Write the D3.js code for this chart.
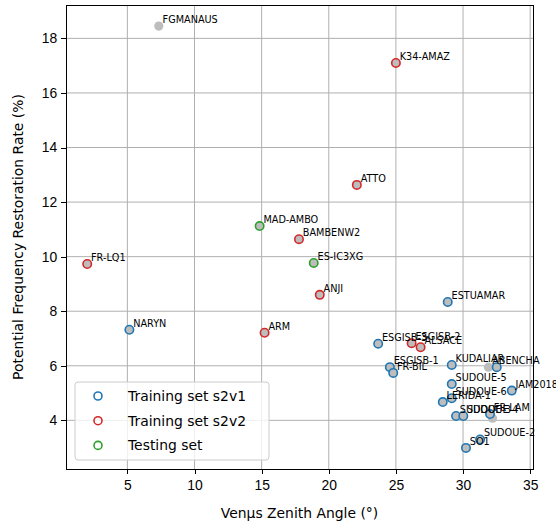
<!DOCTYPE html>
<meta charset="utf-8">
<head>
    <title>Restoration rate vs zenith angle</title>
    <script src="https://d3js.org/d3.v7.min.js"></script>
</head>
<style>
    body { margin: 0; background: #fff; }
    svg { font-family: "DejaVu Sans", sans-serif; }
    .axis path, .axis line { stroke: #000; stroke-width: 1px; shape-rendering: crispEdges; }
    .axis text { font-size: 13.9px; fill: #000; }
    .grid line { stroke: #b0b0b0; stroke-width: 1px; }
    .lbl { font-size: 9.7px; fill: #000; }
</style>
<body>
<svg width="556" height="525"></svg>
<script>
// point labels (empty = no label), angle, restoration rate, group
var labels = ["FGMANAUS", "ABENCHA", "",
    "NARYN", "ESTUAMAR", "ESGISB-3", "ESGISB-1", "FR-BIL", "KUDALIAR", "", "SUDOUE-5", "JAM2018",
    "SUDOUE-6", "LERIDA-1", "SUDOUE-3", "SUDOUE-4", "FR-LAM", "SUDOUE-2", "SO1",
    "K34-AMAZ", "ATTO", "BAMBENW2", "FR-LQ1", "ANJI", "ARM", "ESGISB-2", "ALSACE",
    "MAD-AMBO", "ES-IC3XG"];
var zenith = [7.34, 31.89, 32.19,
    5.15, 28.86, 23.68, 24.55, 24.80, 29.16, 32.51, 29.16, 33.63,
    29.16, 28.49, 29.48, 30.02, 32.01, 31.27, 30.22,
    25.0, 22.09, 17.78, 2.01, 19.33, 15.22, 26.17, 26.84,
    14.85, 18.88];
var rate = [18.45, 5.95, 4.08,
    7.32, 8.34, 6.81, 5.95, 5.74, 6.03, 5.95, 5.33, 5.09,
    4.81, 4.67, 4.16, 4.16, 4.23, 3.30, 2.99,
    17.1, 12.63, 10.64, 9.73, 8.6, 7.21, 6.83, 6.68,
    11.12, 9.77];
var group = ["none", "none", "none",
    "s2v1", "s2v1", "s2v1", "s2v1", "s2v1", "s2v1", "s2v1", "s2v1", "s2v1",
    "s2v1", "s2v1", "s2v1", "s2v1", "s2v1", "s2v1", "s2v1",
    "s2v2", "s2v2", "s2v2", "s2v2", "s2v2", "s2v2", "s2v2", "s2v2",
    "test", "test"];

var legendNames = ["Training set s2v1", "Training set s2v2", "Testing set"];
var legendKeys = ["s2v1", "s2v2", "test"];
var xTicks = [5, 10, 15, 20, 25, 30, 35];
var yTicks = [4, 6, 8, 10, 12, 14, 16, 18];

var colors = {s2v1: "#1f77b4", s2v2: "#d62728", test: "#2ca02c"};

var data = labels.map(function(s, i) {
    return {name: s, x: zenith[i], y: rate[i], g: group[i]};
});

var svg = d3.select("svg"),
    margin = {top: 5, right: 23, bottom: 56, left: 66},
    width = +svg.attr("width") - margin.left - margin.right,
    height = +svg.attr("height") - margin.top - margin.bottom;

// matplotlib style 5% margins round the data
function padded(vals) {
    var e = d3.extent(vals), p = (e[1] - e[0]) * 0.05;
    return [e[0] - p, e[1] + p];
}

var x = d3.scaleLinear().domain(padded(zenith)).range([0, width]);
var y = d3.scaleLinear().domain(padded(rate)).range([height, 0]);

var g = svg.append("g")
    .attr("transform", "translate(" + margin.left + "," + margin.top + ")");

// grid
g.append("g").attr("class", "grid")
    .selectAll("line.v").data(xTicks).enter().append("line")
    .attr("x1", x).attr("x2", x).attr("y1", 0).attr("y2", height);
g.append("g").attr("class", "grid")
    .selectAll("line.h").data(yTicks).enter().append("line")
    .attr("y1", y).attr("y2", y).attr("x1", 0).attr("x2", width);

// points
g.selectAll(".dot")
    .data(data)
    .enter().append("circle")
    .attr("class", "dot")
    .attr("cx", function(d) { return x(d.x); })
    .attr("cy", function(d) { return y(d.y); })
    .attr("r", function(d) { return d.g === "none" ? 4.6 : 4.2; })
    .attr("fill", "#bdbdbd")
    .attr("stroke", function(d) { return d.g === "none" ? "none" : colors[d.g]; })
    .attr("stroke-width", 1.6);

// labels
g.selectAll(".lbl")
    .data(data.filter(function(d) { return d.name; }))
    .enter().append("text")
    .attr("class", "lbl")
    .attr("x", function(d) { return x(d.x) + 3.8; })
    .attr("y", function(d) { return y(d.y) - 3; })
    .text(function(d) { return d.name; });

// axes
g.append("g")
    .attr("class", "x axis")
    .attr("transform", "translate(0," + height + ")")
    .call(d3.axisBottom(x).tickValues(xTicks).tickSize(4.9).tickPadding(6.5).tickSizeOuter(0));

g.append("g")
    .attr("class", "y axis")
    .call(d3.axisLeft(y).tickValues(yTicks).tickSize(4.9).tickPadding(4).tickSizeOuter(0));

g.append("rect")
    .attr("width", width).attr("height", height)
    .attr("fill", "none").attr("stroke", "#000").attr("stroke-width", 1)
    .attr("shape-rendering", "crispEdges");

svg.append("text")
    .attr("x", margin.left + width / 2)
    .attr("y", 518)
    .attr("text-anchor", "middle")
    .style("font-size", "13.9px")
    .text("Venμs Zenith Angle (°)");

svg.append("text")
    .attr("transform", "translate(23," + (margin.top + height / 2) + ") rotate(-90)")
    .attr("text-anchor", "middle")
    .style("font-size", "13.9px")
    .text("Potential Frequency Restoration Rate (%)");

// legend
var leg = svg.append("g").attr("transform", "translate(75,382)");
leg.append("rect")
    .attr("width", 194).attr("height", 78)
    .attr("rx", 3)
    .attr("fill", "#fff").attr("fill-opacity", 0.8)
    .attr("stroke", "#cccccc").attr("stroke-width", 1);

legendKeys.forEach(function(k, i) {
    var cy = 14 + i * 24.7;
    leg.append("circle")
        .attr("cx", 23).attr("cy", cy).attr("r", 4)
        .attr("fill", "none")
        .attr("stroke", colors[k]).attr("stroke-width", 1.6);
    leg.append("text")
        .attr("x", 53).attr("y", cy + 5)
        .style("font-size", "13.9px")
        .text(legendNames[i]);
});
</script>
</body>
